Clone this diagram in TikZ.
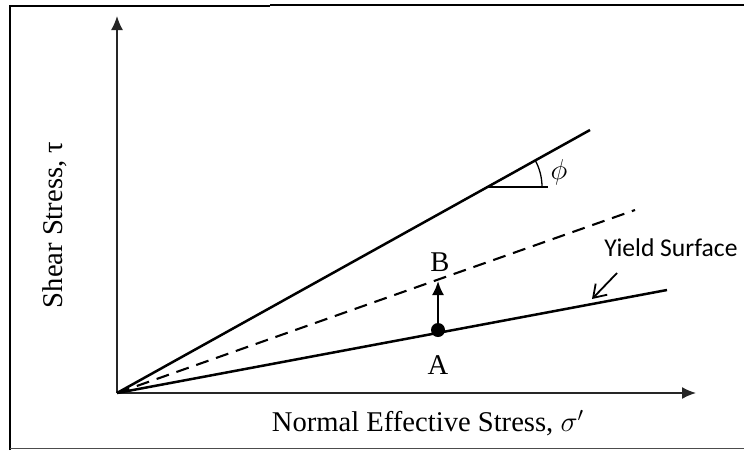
\documentclass[tikz,border=0pt]{standalone}
\usepackage{fontspec}
\setmainfont{Liberation Serif}
\newfontfamily\calibrifont{Carlito}
\usepackage{tikz}
\usetikzlibrary{arrows.meta,positioning,calc}
\tikzset{
  axis/.style={-{Latex[length=7pt,width=6pt]}, line width=0.8pt, draw=black!85},
  envelope/.style={line width=1.25pt, draw=black},
  trial/.style={line width=1.05pt, draw=black, dash pattern=on 6.5pt off 4pt},
  label/.style={font=\fontsize{14.3}{16}\selectfont, inner sep=1pt},
  pointer/.style={-{Straight Barb[length=6pt,width=8pt]}, line width=0.9pt}
}

\begin{document}
\begin{tikzpicture}[x=0.5pt,y=-0.5pt]
    \useasboundingbox (0,0) rectangle (744,450);
    % Frame
    \draw[line width=1.2pt] (10,450) -- (10,6) -- (270,6);
    \draw[line width=1.2pt] (270,5) -- (744,5);
    \draw[line width=0.5pt, draw=black!70] (10,448) -- (744,448);

    % Axes
    \coordinate (O) at (117,393);
    \coordinate (ytip) at (117,16);
    \coordinate (xtip) at (696,393);
    \draw[axis] (O) -- (ytip);
    \draw[axis] (O) -- (xtip);
    \node[label, rotate=90] (ylab) at (55,225) {Shear Stress, τ};
    \node[label] (xlab) at (428,423) {Normal Effective Stress, $\sigma'$};

    % Failure envelope, trial line and yield surface
    \coordinate (fend) at (590,130);
    \coordinate (tend) at (635,210);
    \coordinate (yend) at (667,290);
    \draw[envelope] (O) -- (fend);
    \draw[trial] (O) -- (tend);
    \draw[envelope] (O) -- (yend);

    % Friction angle
    \coordinate (pivot) at (486,187);
    \coordinate (hend) at (548,187);
    \draw[line width=0.8pt] (pivot) -- (hend);
    \draw[line width=0.65pt] ($(pivot)+(56,0)$) arc[start angle=0,end angle=29,radius=28pt];
    \node[label] (phi) at (559,172) {$\phi$};

    % Stress path A to B
    \coordinate (B) at (438,281);
    \node[circle, fill=black, inner sep=0pt, minimum size=7pt] (A) at (438,330) {};
    \draw[-{Latex[length=7pt,width=6pt]}, line width=1pt] (A) -- (B);
    \node[label] (Blab) at (440,262) {B};
    \node[label] (Alab) at (438,365) {A};

    % Yield surface callout
    \node[font=\calibrifont\fontsize{12.8}{14}\selectfont, inner sep=0pt] (ys) at (671,248) {Yield Surface};
    \coordinate (ystart) at (617,273);
    \coordinate (yhit) at (592,299);
    \draw[pointer] (ystart) -- (yhit);
\end{tikzpicture}
\end{document}
